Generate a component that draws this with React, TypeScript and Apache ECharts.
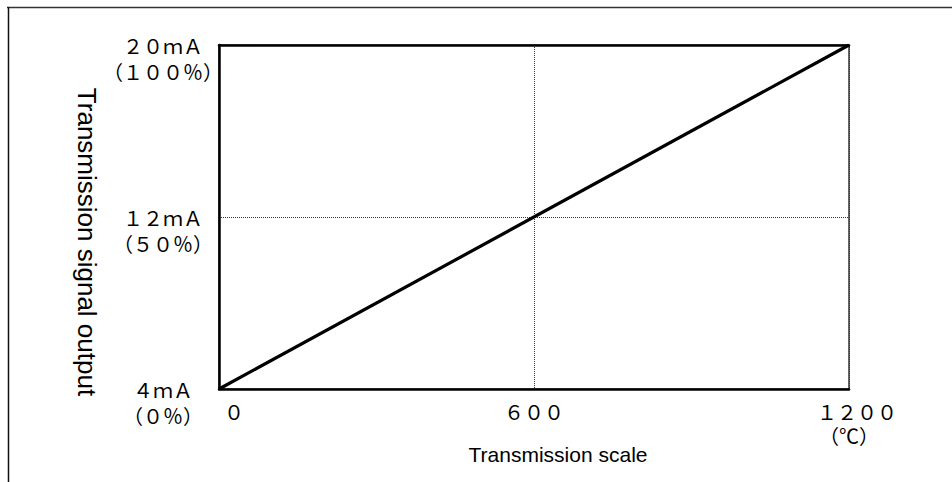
import React, { useEffect, useRef } from "react";
import * as echarts from "echarts";

const xTicks = [0, 600, 1200];
const xTickLabels = ["０", "６００", "１２００"];
const xUnit = "（℃）";
const yTicks = [0, 50, 100];
const yMainLabels = ["４ｍＡ", "１２ｍＡ", "２０ｍＡ"];
const ySubLabels = ["（０％）", "（５０％）", "（１００％）"];
const lineX = [0, 1200];
const lineY = [0, 100];
const xName = "Transmission scale";
const yName = "Transmission signal output";

const CJK = "'Noto Sans CJK JP', sans-serif";
const SANS = "'Liberation Sans', Arial, sans-serif";

export default function App() {
  const ref = useRef<HTMLDivElement>(null);
  useEffect(() => {
    if (!ref.current) return;
    const chart = echarts.init(ref.current, null, { renderer: "svg" });
    const lab = { fontFamily: CJK, fontSize: 20, lineHeight: 24, color: "#000" };
    const option = {
      animation: false,
      backgroundColor: "#fff",
      grid: { left: 219, right: 103, top: 45, bottom: 93, show: true, borderColor: "#000", borderWidth: 1.2 },
      xAxis: [
        {
          type: "value",
          min: 0,
          max: 1200,
          interval: 600,
          position: "bottom",
          axisLine: { show: true, lineStyle: { color: "#000", width: 2.5 } },
          axisTick: { show: false },
          splitLine: { show: true, lineStyle: { type: "dotted", color: "#333", width: 1 } },
          axisLabel: {
            margin: 10,
            alignMinLabel: "left",
            formatter: (v: number) => {
              const i = xTicks.indexOf(v);
              if (i < 0) return "";
              if (i === 0) return `{m|${xTickLabels[i]}}`;
              if (i === xTicks.length - 1) return `{e|${xTickLabels[i]}}\n{a|${xUnit}}`;
              return `{a|${xTickLabels[i]}}`;
            },
            rich: {
              a: lab,
              m: { ...lab, padding: [0, 0, 0, 5] },
              e: { ...lab, padding: [0, 0, 0, 16] },
            },
          },
          name: xName,
          nameLocation: "middle",
          nameGap: 55,
          nameMoveOverlap: false,
          nameTextStyle: { fontFamily: SANS, fontSize: 21, color: "#000", padding: [0, 0, 0, 48] },
        },
        {
          type: "value",
          min: 0,
          max: 1200,
          position: "top",
          axisLine: { show: true, lineStyle: { color: "#000", width: 2.5 } },
          axisTick: { show: false },
          axisLabel: { show: false },
          splitLine: { show: false },
        },
      ],
      yAxis: {
        type: "value",
        min: 0,
        max: 100,
        interval: 50,
        axisLine: { show: true, lineStyle: { color: "#000", width: 2.5 } },
        axisTick: { show: false },
        splitLine: { show: true, lineStyle: { type: "dotted", color: "#333", width: 1 } },
        axisLabel: {
          margin: 56,
          align: "center",
          padding: [26, 0, 0, 0],
          formatter: (v: number) => {
            const i = yTicks.indexOf(v);
            if (i < 0) return "";
            return `{a|${yMainLabels[i]}}\n{a|${ySubLabels[i]}}`;
          },
          rich: { a: { ...lab, lineHeight: 26 } },
        },
        name: yName,
        nameLocation: "middle",
        nameRotate: -90,
        nameGap: 119,
        nameMoveOverlap: false,
        nameTextStyle: { fontFamily: SANS, fontSize: 26, color: "#000", padding: [0, 0, 0, 50] },
      },
      graphic: [
        { type: "line", shape: { x1: 7, y1: 7.5, x2: 952, y2: 7.5 }, style: { stroke: "#333", lineWidth: 1.5 } },
        { type: "line", shape: { x1: 8.5, y1: 7, x2: 8.5, y2: 482 }, style: { stroke: "#111", lineWidth: 1.5 } },
      ],
      series: [
        {
          type: "line",
          xAxisIndex: 0,
          data: lineX.map((x, i) => [x, lineY[i]]),
          showSymbol: false,
          symbol: "none",
          lineStyle: { color: "#000", width: 3.2 },
        },
      ],
    };
    chart.setOption(option as any);
    return () => chart.dispose();
  }, []);
  return (
    <div style={{ position: "fixed", left: 0, top: 0, width: 952, height: 482, background: "#fff" }}>
      <div ref={ref} style={{ width: 952, height: 482 }} />
    </div>
  );
}
